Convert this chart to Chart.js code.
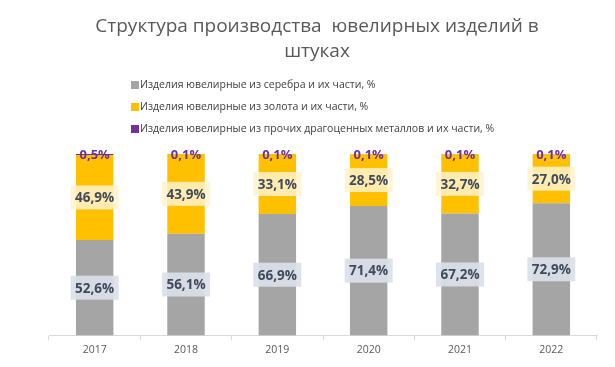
<!DOCTYPE html>
<html>
<head>
<meta charset="utf-8">
<script src="https://cdn.jsdelivr.net/npm/chart.js@4"></script>
<style>
  html, body { margin: 0; padding: 0; background: #fff; }
  #wrap { width: 615px; height: 367px; position: relative; }
</style>
</head>
<body>
<div id="wrap"><canvas id="chart"></canvas></div>
<script>
const years = ["2017", "2018", "2019", "2020", "2021", "2022"];
const silver = [52.6, 56.1, 66.9, 71.4, 67.2, 72.9];
const gold = [46.9, 43.9, 33.1, 28.5, 32.7, 27.0];
const other = [0.5, 0.1, 0.1, 0.1, 0.1, 0.1];
const seriesNames = [
  "Изделия ювелирные из серебра и их части, %",
  "Изделия ювелирные из золота и их части, %",
  "Изделия ювелирные из прочих драгоценных металлов и их части, %",
];
const titleLines = ["Структура производства  ювелирных изделий в", "штуках"];

const FONT = "'Open Sans', 'Noto Sans', sans-serif";

const fmt = (v) => v.toFixed(1).replace(".", ",") + "%";

// title and legend drawn by hand: title a bit left of center, legend one item per line
const header = {
  id: "header",
  afterDraw(chart) {
    const ctx = chart.ctx;
    ctx.save();
    ctx.font = "19px " + FONT;
    ctx.fillStyle = "#595959";
    ctx.textAlign = "center";
    ctx.textBaseline = "middle";
    titleLines.forEach((line, i) => ctx.fillText(line, 317, 27 + i * 25));

    ctx.textAlign = "left";
    ctx.font = "10.5px " + FONT;
    chart.data.datasets.forEach((ds, i) => {
      const y = 85 + i * 22;
      ctx.fillStyle = ds.backgroundColor;
      ctx.fillRect(131, y - 4, 8, 8);
      ctx.fillStyle = "#404040";
      ctx.fillText(ds.label, 140, y);
    });
    ctx.restore();
  },
};

// value labels with boxes behind them
const valueLabels = {
  id: "valueLabels",
  afterDatasetsDraw(chart) {
    const ctx = chart.ctx;
    ctx.save();
    ctx.textAlign = "center";
    ctx.textBaseline = "middle";
    chart.data.datasets.forEach((ds, i) => {
      const meta = chart.getDatasetMeta(i);
      meta.data.forEach((bar, j) => {
        const txt = fmt(ds.data[j]);
        const cx = bar.x;
        if (i === 2) {
          ctx.font = "bold 13px " + FONT;
          ctx.fillStyle = "#7030A0";
          ctx.fillText(txt, cx, bar.y + 1);
          return;
        }
        const cy = (bar.y + bar.base) / 2;
        ctx.font = "bold 13.5px " + FONT;
        const w = 48, h = 24;
        ctx.fillStyle = i === 0 ? "rgba(218,224,233,0.92)" : "rgba(255,242,204,0.85)";
        ctx.fillRect(cx - w / 2, cy - h / 2, w, h);
        ctx.fillStyle = "#404A5A";
        ctx.fillText(txt, cx, cy + 1);
      });
    });
    ctx.restore();
  },
};

new Chart(document.getElementById("chart"), {
  type: "bar",
  data: {
    labels: years,
    datasets: [
      { label: seriesNames[0], data: silver, backgroundColor: "#A5A5A5" },
      { label: seriesNames[1], data: gold, backgroundColor: "#FFC000" },
      { label: seriesNames[2], data: other, backgroundColor: "#7030A0" },
    ],
  },
  options: {
    responsive: true,
    maintainAspectRatio: false,
    animation: false,
    layout: { padding: { left: 49, right: 18, top: 154, bottom: 8 } },
    datasets: { bar: { barPercentage: 0.41, categoryPercentage: 1 } },
    plugins: {
      legend: { display: false },
      tooltip: { enabled: false },
      title: { display: false },
    },
    scales: {
      x: {
        stacked: true,
        offset: true,
        grid: {
          display: true,
          drawOnChartArea: false,
          offset: true,
          tickLength: 5,
          color: "#D9D9D9",
        },
        border: { color: "#D9D9D9" },
        ticks: { color: "#595959", font: { family: FONT, size: 10.5 }, padding: 3 },
      },
      y: {
        stacked: true,
        display: false,
        min: 0,
        max: 100,
      },
    },
  },
  plugins: [header, valueLabels],
});
</script>
</body>
</html>
